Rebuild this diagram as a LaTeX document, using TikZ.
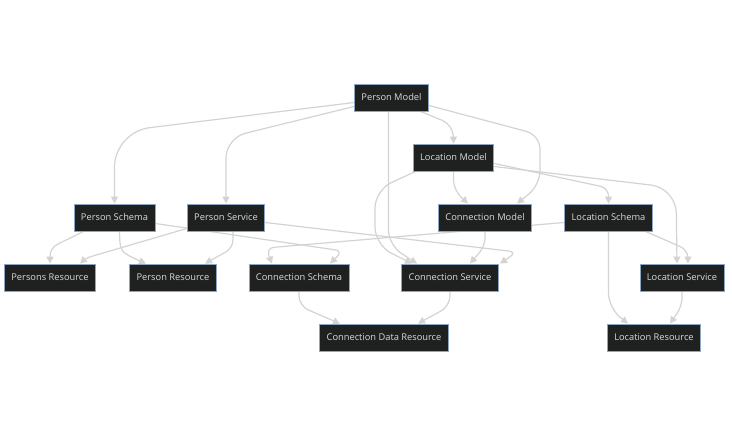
\documentclass[tikz,border=0pt]{standalone}
\usepackage{fontspec}
\setmainfont{Open Sans}
\usetikzlibrary{arrows.meta,calc,backgrounds}
\definecolor{nodefill}{HTML}{1F2020}
\definecolor{nodeline}{HTML}{8DA6C4}
\definecolor{nodetext}{HTML}{DADADA}
\definecolor{edgecol}{HTML}{D3D3D3}

\begin{document}
\begin{tikzpicture}[x=1pt, y=-1pt,
    module/.style={rectangle, draw=nodeline, fill=nodefill, text=nodetext, line width=0.8pt,
        minimum height=27pt, inner xsep=7pt, font=\fontsize{9.3}{11}\selectfont},
    dep/.style={draw=edgecol, line width=1.2pt, -{Triangle[length=7pt,width=7pt]}, rounded corners=#1},
    dep/.default=12pt
]
\useasboundingbox (0,0) rectangle (732,436);

% Models
\node[module] (pm) at (391.5,97.5) {Person Model};
\node[module] (lm) at (453.5,157.5) {Location Model};
\node[module] (cm) at (485,217.5) {Connection Model};

% Schemas and services
\node[module] (psch) at (114.5,217.5) {Person Schema};
\node[module] (psvc) at (226,217.5) {Person Service};
\node[module] (lsch) at (608.5,217.5) {Location Schema};
\node[module] (csch) at (299,277.5) {Connection Schema};
\node[module] (csvc) at (450,277.5) {Connection Service};
\node[module] (lsvc) at (682,277.5) {Location Service};

% Resources
\node[module] (psres) at (50,277.5) {Persons Resource};
\node[module] (pres) at (173,277.5) {Person Resource};
\node[module] (cdres) at (384,337.5) {Connection Data Resource};
\node[module] (lres) at (654,337.5) {Location Resource};

\begin{scope}[on background layer]
% Person Model
\draw[dep=35pt] ($(pm.west)+(0,5)$) -- (114.5,132) -- (psch.north);
\draw[dep=20pt] ($(pm.west)+(0,9)$) -- (226,138) -- (psvc.north);
\draw[dep=12pt] ($(pm.south)+(29,0)$) -- (453.5,125) -- (lm.north);
\draw[dep=14pt] ($(pm.east)+(0,8)$) -- (540,135) -- (540,185) -- ($(cm.north)+(32,0)$);
\draw[dep=15pt] ($(pm.south)+(-3,0)$) -- (388.5,245) -- ($(csvc.north)+(-33,0)$);

% Location Model
\draw[dep=18pt] ($(lm.south west)+(3,0)$) -- (375,190) -- (375,245) -- ($(csvc.north)+(-38,0)$);
\draw[dep=10pt] (lm.south) -- (453.5,190) -- ($(cm.north)+(-17,0)$);
\draw[dep=8pt] ($(lm.east)+(0,6)$) -- (608.5,188) -- (lsch.north);
\draw[dep=25pt] ($(lm.east)+(0,9)$) -- (676,188) -- ($(lsvc.north)+(-5,0)$);

% Person Schema
\draw[dep=8pt] ($(psch.south)+(-31,0)$) -- (50,248) -- (psres.north);
\draw[dep] ($(psch.south)+(5,0)$) .. controls (120,252) .. ($(pres.north)+(-27,0)$);
\draw[dep=8pt] ($(psch.east)+(0,6)$) -- (343,251) -- ($(csch.north)+(31,0)$);

% Person Service
\draw[dep=5pt] ($(psvc.west)+(0,11)$) -- (86,258) -- ($(psres.north)+(30,0)$);
\draw[dep=8pt] ($(psvc.south)+(7,0)$) -- (233,248) -- ($(pres.north)+(32,0)$);
\draw[dep=8pt] ($(psvc.east)+(0,5)$) -- (517,252) -- ($(csvc.north)+(50,0)$);

% Connection Model
\draw[dep=8pt] (cm.south) -- (485,246) -- ($(csvc.north)+(20,0)$);

% Location Schema
\draw[dep=8pt] ($(lsch.west)+(0,5)$) -- (266,248) -- ($(csch.north)+(-27,0)$);
\draw[dep=15pt] (lsch.south) -- (608.5,308) -- ($(lres.north)+(-26,0)$);
\draw[dep=8pt] ($(lsch.south)+(37,0)$) -- (688,250) -- ($(lsvc.north)+(6,0)$);

% Connection Schema and Service
\draw[dep=10pt] (csch.south) -- (299,306) -- ($(cdres.north)+(-44,0)$);
\draw[dep=10pt] (csvc.south) -- (450,306) -- ($(cdres.north)+(34,0)$);

% Location Service
\draw[dep=8pt] (lsvc.south) -- (682,306) -- ($(lres.north)+(16,0)$);
\end{scope}

\end{tikzpicture}
\end{document}
